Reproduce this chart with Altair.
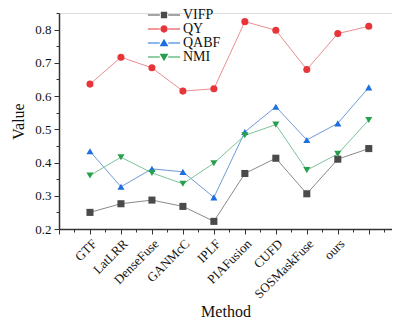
import altair as alt
import pandas as pd

methods = ["GTF", "LatLRR", "DenseFuse", "GANMcC", "IPLF", "PIAFusion",
           "CUFD", "SOSMaskFuse", "ours", ""]
series = ["VIFP", "QY", "QABF", "NMI"]
vifp = [0.250, 0.276, 0.287, 0.268, 0.223, 0.367, 0.413, 0.306, 0.410, 0.442]
qy = [0.636, 0.717, 0.685, 0.615, 0.622, 0.824, 0.798, 0.680, 0.788, 0.810]
qabf = [0.434, 0.327, 0.381, 0.372, 0.295, 0.492, 0.568, 0.468, 0.518, 0.626]
nmi = [0.361, 0.416, 0.369, 0.336, 0.398, 0.482, 0.514, 0.377, 0.426, 0.528]

marker_colors = ["#4a4a4a", "#e8353a", "#1c6fe0", "#27a04c"]
line_colors = ["#8a8a8a", "#e88f92", "#6f9ad6", "#7cc49a"]
shapes = ["square", "circle", "triangle-up", "triangle-down"]

# legend glyphs: a short line with the marker in the middle (units: 1 = 7px)
seg = "M-2.3,-0.07H-0.6V0.07H-2.3Z M0.6,-0.07H2.3V0.07H0.6Z "
legend_paths = [
    seg + "M-0.45,-0.45H0.45V0.45H-0.45Z",
    seg + "M-0.52,0A0.52,0.52 0 1,1 0.52,0A0.52,0.52 0 1,1 -0.52,0Z",
    seg + "M0,-0.62L0.62,0.48H-0.62Z",
    seg + "M0,0.62L-0.62,-0.48H0.62Z",
]

rows = []
for name, vals in zip(series, [vifp, qy, qabf, nmi]):
    for i, v in enumerate(vals):
        rows.append({"idx": i + 1, "value": v, "series": name})
df = pd.DataFrame(rows)

FONT = "Liberation Serif"
labels_js = "[" + ",".join("'" + m + "'" for m in [""] + methods) + "]"
x_label_expr = f"(datum.value % 1 != 0) ? '' : ({labels_js}[datum.value] || '')"

x_vals = [i * 0.5 for i in range(22)]
y_vals = [round(0.2 + i * 0.05, 2) for i in range(14)]

x_enc = alt.X(
    "idx:Q",
    scale=alt.Scale(domain=[0, 10.75], nice=False, zero=False),
    axis=alt.Axis(
        title="Method", values=x_vals, labelExpr=x_label_expr,
        labelAngle=-45, labelAlign="right", labelBaseline="top",
        labelFont=FONT, labelFontSize=13, labelColor="#111",
        labelPadding=3, labelOverlap=False, labelFlush=False, labelBound=False,
        titleFont=FONT, titleFontSize=16, titleFontWeight="normal",
        titleColor="#111", titlePadding=3,
        domainColor="#333", domainWidth=1.5, tickColor="#333", tickWidth=1,
        tickSize={"condition": {"test": "datum.value % 1 == 0", "value": 5}, "value": 3},
        grid=False,
    ),
)
y_enc = alt.Y(
    "value:Q",
    scale=alt.Scale(domain=[0.2, 0.85], nice=False, zero=False),
    axis=alt.Axis(
        title="Value", values=y_vals,
        labelExpr="abs(round(datum.value*10) - datum.value*10) > 0.01 || datum.value > 0.81 ? '' : format(datum.value, '.1f')",
        labelFont=FONT, labelFontSize=13, labelColor="#111", labelPadding=3,
        labelOverlap=False, labelFlush=False, labelBound=False,
        titleFont=FONT, titleFontSize=16, titleFontWeight="normal",
        titleColor="#111", titlePadding=8,
        domainColor="#333", domainWidth=1.5, tickColor="#333", tickWidth=1,
        tickSize={"condition": {"test": "abs(round(datum.value*10) - datum.value*10) < 0.01", "value": 5}, "value": 3},
        grid=False,
    ),
)

base = alt.Chart(df).encode(x=x_enc, y=y_enc)

lines = base.mark_line(strokeWidth=1).encode(
    color=alt.Color("series:N", sort=series,
                    scale=alt.Scale(domain=series, range=line_colors), legend=None),
    detail="series:N",
)

points = base.mark_point(filled=True, size=50, opacity=1).encode(
    color=alt.Color("series:N", sort=series,
                    scale=alt.Scale(domain=series, range=marker_colors), legend=None),
    shape=alt.Shape("series:N", sort=series,
                    scale=alt.Scale(domain=series, range=shapes), legend=None),
)

leg = alt.Legend(title=None, orient="none", legendX=98, legendY=-5, padding=0,
                 symbolSize=196, rowPadding=0, symbolStrokeWidth=0,
                 symbolOpacity=1,
                 labelFont=FONT, labelFontSize=14, labelColor="#111",
                 labelOffset=12)

legend_layer = base.mark_point(filled=True, size=196).encode(
    color=alt.Color("series:N", sort=series,
                    scale=alt.Scale(domain=series, range=marker_colors), legend=leg),
    shape=alt.Shape("series:N", sort=series,
                    scale=alt.Scale(domain=series, range=legend_paths), legend=leg),
).transform_filter("datum.idx > 100")

chart = alt.layer(lines, points, legend_layer).resolve_scale(
    color="independent", shape="independent"
).properties(
    width=333, height=216,
    autosize=alt.AutoSizeParams(type="none"),
    padding={"left": 51, "top": 5, "right": 0, "bottom": 90},
).configure_view(stroke=None).configure_axis(
    labelOverlap=False
).configure(background="white")

chart.save("out.html", embed_options={"renderer": "svg", "actions": False})
